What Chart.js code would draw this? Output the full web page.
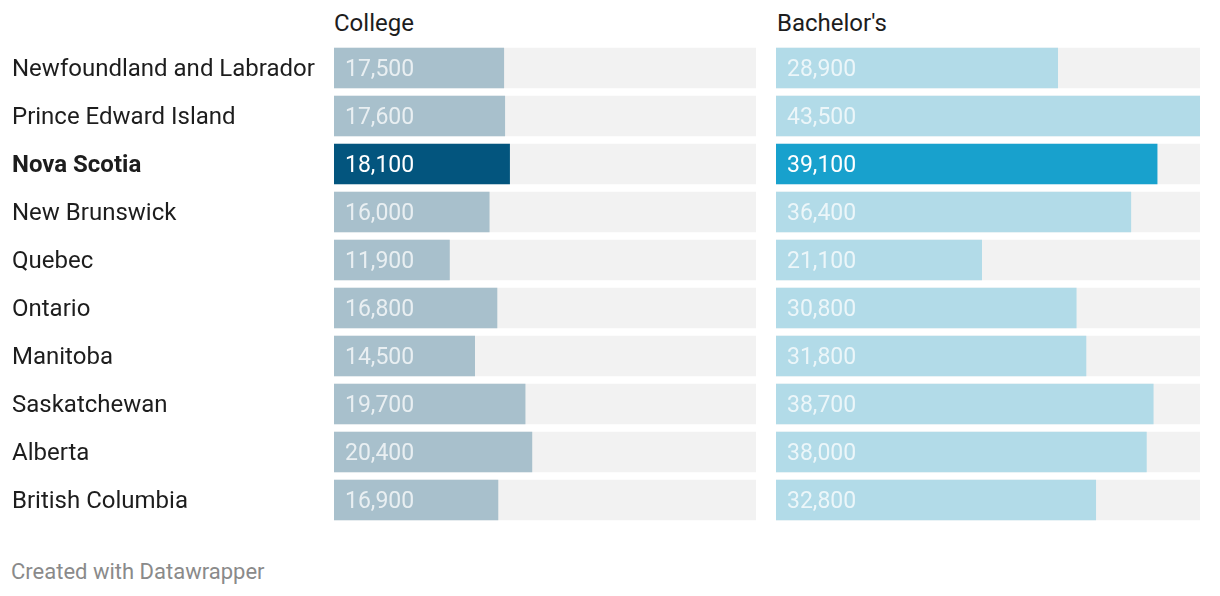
<!DOCTYPE html>
<html>
<head>
<meta charset="utf-8">
<script src="https://cdn.jsdelivr.net/npm/chart.js@4"></script>
<style>
  body { margin: 0; background: #fff; font-family: Roboto, sans-serif; }
  #wrap { position: relative; width: 1220px; height: 596px; overflow: hidden; }
  .head { position: absolute; top: 9px; font-size: 24px; color: #1d1d1d; }
  .box { position: absolute; top: 44px; height: 480px; }
  #foot { position: absolute; left: 11px; top: 559px; font-size: 22px; color: #8a8a8a; }
</style>
</head>
<body>
<div id="wrap">
  <div class="head" style="left:334px">College</div>
  <div class="head" style="left:777px">Bachelor's</div>
  <div class="box" style="left:12px;width:744px"><canvas id="collegeChart"></canvas></div>
  <div class="box" style="left:776px;width:424px"><canvas id="bachChart"></canvas></div>
  <div id="foot">Created with Datawrapper</div>
</div>
<script>
const provinces = ['Newfoundland and Labrador', 'Prince Edward Island', 'Nova Scotia', 'New Brunswick',
  'Quebec', 'Ontario', 'Manitoba', 'Saskatchewan', 'Alberta', 'British Columbia'];
const college = [17500, 17600, 18100, 16000, 11900, 16800, 14500, 19700, 20400, 16900];
const bachelors = [28900, 43500, 39100, 36400, 21100, 30800, 31800, 38700, 38000, 32800];
const highlight = 'Nova Scotia';
const maxVal = 43500;

const fmt = v => v.toLocaleString('en-US');

// value labels drawn inside the bars
const valueLabels = {
  id: 'valueLabels',
  afterDatasetsDraw(chart) {
    const ctx = chart.ctx;
    const meta = chart.getDatasetMeta(0);
    const vals = chart.data.datasets[0].data;
    ctx.save();
    ctx.font = '23px Roboto';
    ctx.textBaseline = 'middle';
    ctx.textAlign = 'left';
    meta.data.forEach((bar, i) => {
      ctx.fillStyle = provinces[i] === highlight ? '#ffffff' : 'rgba(255,255,255,0.75)';
      ctx.fillText(fmt(vals[i]), chart.chartArea.left + 11, bar.y + 2);
    });
    ctx.restore();
  }
};

function makeChart(id, values, normal, hi, showLabels) {
  return new Chart(document.getElementById(id), {
    type: 'bar',
    data: {
      labels: provinces,
      datasets: [{
        data: values,
        backgroundColor: provinces.map(p => p === highlight ? hi : normal),
        barThickness: 40,
        grouped: false
      }, {
        data: provinces.map(() => maxVal),
        backgroundColor: '#f2f2f2',
        barThickness: 40,
        grouped: false
      }]
    },
    options: {
      indexAxis: 'y',
      responsive: true,
      maintainAspectRatio: false,
      animation: false,
      layout: { padding: 0 },
      scales: {
        x: { display: false, min: 0, max: maxVal },
        y: {
          display: showLabels,
          grid: { display: false },
          border: { display: false },
          afterFit(scale) {
            if (!showLabels) return;
            scale.width = 322;
            scale.paddingTop = 0;
            scale.paddingBottom = 0;
          },
          ticks: {
            crossAlign: 'far',
            padding: 0,
            labelOffset: 2,
            color: '#1d1d1d',
            font: c => ({ family: 'Roboto', size: 24, weight: provinces[c.index] === highlight ? 'bold' : 'normal' })
          }
        }
      },
      plugins: { legend: { display: false }, tooltip: { enabled: false } }
    },
    plugins: [valueLabels]
  });
}

makeChart('collegeChart', college, '#a8c0cc', '#03557e', true);
makeChart('bachChart', bachelors, '#b2dbe8', '#18a1cd', false);
</script>
</body>
</html>
